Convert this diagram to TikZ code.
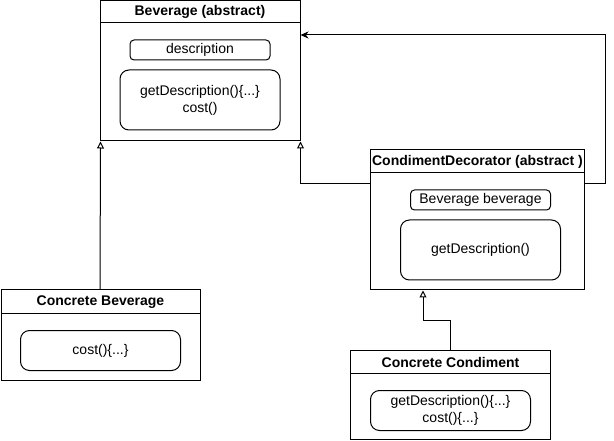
\documentclass[tikz,border=0pt]{standalone}
\usepackage{fontspec}
\setmainfont{Liberation Sans}
\usetikzlibrary{arrows.meta}
\begin{document}
\begin{tikzpicture}[x=1pt,y=-1pt, line width=1pt,
  every node/.style={font=\fontsize{14pt}{17pt}\selectfont},
  cls/.style={draw, rectangle, inner sep=0pt},
  hdr/.style={font=\fontsize{14pt}{17pt}\selectfont\bfseries, inner sep=0pt},
  fld/.style={draw, rounded corners=4pt, inner sep=0pt, align=center},
  mth/.style={draw, rounded corners=9pt, inner sep=0pt, align=center},
  inh/.style={-{Triangle[open,length=7pt,width=7pt,line width=1pt]}},
  assoc/.style={-{Stealth[length=8pt,width=7pt,inset=2.5pt]}}]
\useasboundingbox (0,0) rectangle (614,441);

% Beverage (abstract)
\node[cls, minimum width=200pt, minimum height=140pt] (bev) at (200,71) {};
\node[hdr] (bevh) at (200,12) {Beverage (abstract)};
\draw (100,23) -- (300,23);
\node[fld, minimum width=140pt, minimum height=20pt] (bevd) at (200,50) {description};
\node[mth, minimum width=160pt, minimum height=60pt] (bevm) at (200,100) {getDescription()\{...\}\\cost()};

% Concrete Beverage
\node[cls, minimum width=199pt, minimum height=90pt] (cb) at (100.5,335) {};
\node[hdr] (cbh) at (100.5,302) {Concrete Beverage};
\draw (1,313) -- (200,313);
\node[mth, minimum width=160pt, minimum height=40pt] (cbm) at (100.5,350.5) {cost()\{...\}};

% CondimentDecorator (abstract )
\node[cls, minimum width=214pt, minimum height=140pt] (dec) at (477.5,220) {};
\node[hdr] (dech) at (477.5,161.5) {CondimentDecorator (abstract )};
\draw (370.5,173) -- (584.5,173);
\node[fld, minimum width=140pt, minimum height=20pt] (decf) at (480.5,200) {Beverage beverage};
\node[mth, minimum width=160pt, minimum height=60pt] (decm) at (480.5,250) {getDescription()};

% Concrete Condiment
\node[cls, minimum width=200pt, minimum height=89pt] (cc) at (450.5,395) {};
\node[hdr] (cch) at (450.5,362) {Concrete Condiment};
\draw (350.5,373) -- (550.5,373);
\node[mth, minimum width=160pt, minimum height=40pt] (ccm) at (450.5,410.5) {getDescription()\{...\}\\cost()\{...\}};

% connectors
\draw[inh] (cb.north -| 100,0) -- (cb.north |- bev.south);
\draw[inh] ([yshift=36pt]dec.west) -| (bev.south east);
\draw[assoc] ([yshift=36pt]dec.east) -- ++(20,0) |- ([yshift=36pt]bev.east);
\draw[inh] (cc.north) -- ++(0,-30) -| ([xshift=-54.5pt]dec.south);
\end{tikzpicture}
\end{document}
